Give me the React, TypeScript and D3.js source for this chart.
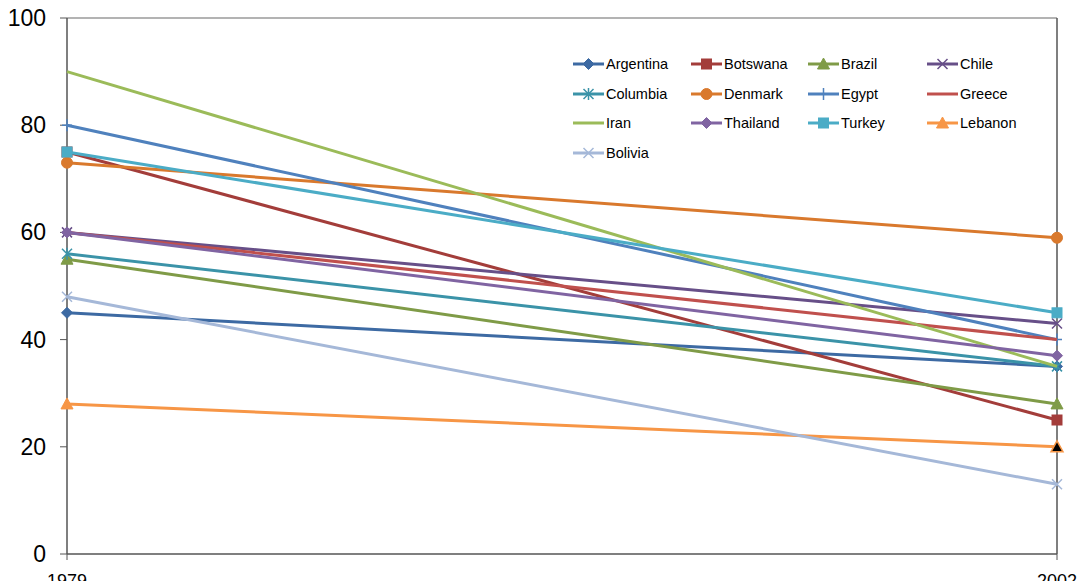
import React from "react";
import * as d3 from "d3";

const years = ["1979", "2002"];
const countries = ["Argentina", "Botswana", "Brazil", "Chile", "Columbia", "Denmark", "Egypt", "Greece", "Iran", "Thailand", "Turkey", "Lebanon", "Bolivia"];
const values1979 = [45, 75, 55, 60, 56, 73, 80, 60, 90, 60, 75, 28, 48];
const values2002 = [35, 25, 28, 43, 35, 59, 40, 40, 35, 37, 45, 20, 13];
const yTicks = [0, 20, 40, 60, 80, 100];

const colors = ["#3D6AA3", "#A33D3A", "#7F9B47", "#674F88", "#3B93A8", "#D9792D", "#4F81BD", "#C0504D", "#9BBB59", "#8064A2", "#4BACC6", "#F79646", "#A5B8D8"];
const markers = ["diamond", "square", "triangle", "x", "asterisk", "circle", "plus", "none", "none", "diamond", "square", "triangle", "x"];

const W = 1083, H = 581;
const left = 67, right = 1057, top = 18, bottom = 554;

function Marker({ kind, x, y, color, fill }: { kind: string; x: number; y: number; color: string; fill?: string }) {
  const f = fill || color;
  switch (kind) {
    case "diamond":
      return <path d={`M${x},${y - 5.5}L${x + 5.5},${y}L${x},${y + 5.5}L${x - 5.5},${y}Z`} fill={f} stroke={color} strokeWidth={1} />;
    case "square":
      return <rect x={x - 5} y={y - 5} width={10} height={10} fill={f} stroke={color} strokeWidth={1} />;
    case "triangle":
      return <path d={`M${x},${y - 6}L${x + 6},${y + 5}L${x - 6},${y + 5}Z`} fill={f} stroke={color} strokeWidth={fill ? 1.5 : 1} />;
    case "x":
      return <path d={`M${x - 5},${y - 5}L${x + 5},${y + 5}M${x - 5},${y + 5}L${x + 5},${y - 5}`} stroke={color} strokeWidth={1.5} fill="none" />;
    case "asterisk":
      return <path d={`M${x - 5},${y - 5}L${x + 5},${y + 5}M${x - 5},${y + 5}L${x + 5},${y - 5}M${x},${y - 6}L${x},${y + 6}`} stroke={color} strokeWidth={1.5} fill="none" />;
    case "circle":
      return <circle cx={x} cy={y} r={5.5} fill={f} stroke={color} strokeWidth={1} />;
    case "plus":
      return <path d={`M${x - 5},${y}L${x + 5},${y}M${x},${y - 6}L${x},${y + 6}`} stroke={color} strokeWidth={1.5} fill="none" />;
    default:
      return null;
  }
}

export default function App() {
  const x = d3.scalePoint<string>().domain(years).range([left, right]);
  const y = d3.scaleLinear().domain([0, 100]).range([bottom, top]);
  const line = d3.line<[number, number]>().x((d) => d[0]).y((d) => d[1]);
  const font = "'Liberation Sans', Arial, sans-serif";

  const legendCols = [573, 691, 808, 927];
  const legendRows = [64, 94, 123, 153];

  return (
    <div style={{ position: "absolute", left: 0, top: 0 }}>
      <svg width={W} height={H} style={{ display: "block", background: "#fff" }}>
        {/* plot frame */}
        <line x1={left} x2={right} y1={top} y2={top} stroke="#9a9a9a" strokeWidth={1.5} />
        <line x1={right} x2={right} y1={top} y2={bottom} stroke="#555" strokeWidth={1.5} />
        {/* y axis */}
        <line x1={left} x2={left} y1={top} y2={bottom} stroke="#555" strokeWidth={1.5} />
        {yTicks.map((t) => (
          <g key={t}>
            <line x1={left - 7} x2={left} y1={y(t)} y2={y(t)} stroke="#555" strokeWidth={1} />
            <text x={left - 21} y={y(t)} dy="0.35em" textAnchor="end" fontFamily={font} fontSize={23} fill="#000">{t}</text>
          </g>
        ))}
        {/* x axis */}
        <line x1={left} x2={right} y1={bottom} y2={bottom} stroke="#555" strokeWidth={1.5} />
        {years.map((yr) => (
          <g key={yr}>
            <line x1={x(yr)} x2={x(yr)} y1={bottom} y2={bottom + 6} stroke="#555" strokeWidth={1} />
            <text x={x(yr)} y={bottom + 33} textAnchor="middle" fontFamily={font} fontSize={18} fill="#000">{yr}</text>
          </g>
        ))}
        {/* series */}
        {countries.map((c, i) => {
          const p1: [number, number] = [x(years[0])!, y(values1979[i])];
          const p2: [number, number] = [x(years[1])!, y(values2002[i])];
          const isLebanon = c === "Lebanon";
          return (
            <g key={c}>
              <path d={line([p1, p2])!} stroke={colors[i]} strokeWidth={3} fill="none" />
              <Marker kind={markers[i]} x={p1[0]} y={p1[1]} color={colors[i]} />
              <Marker kind={markers[i]} x={p2[0]} y={p2[1]} color={colors[i]} fill={isLebanon ? "#000" : undefined} />
            </g>
          );
        })}
        {/* legend */}
        {countries.map((c, i) => {
          const lx = legendCols[i % 4];
          const ly = legendRows[Math.floor(i / 4)];
          return (
            <g key={"lg" + c}>
              <line x1={lx} x2={lx + 31} y1={ly} y2={ly} stroke={colors[i]} strokeWidth={3} />
              <Marker kind={markers[i]} x={lx + 15.5} y={ly} color={colors[i]} />
              <text x={lx + 33} y={ly} dy="0.36em" fontFamily={font} fontSize={14.5} fill="#000">{c}</text>
            </g>
          );
        })}
      </svg>
    </div>
  );
}
